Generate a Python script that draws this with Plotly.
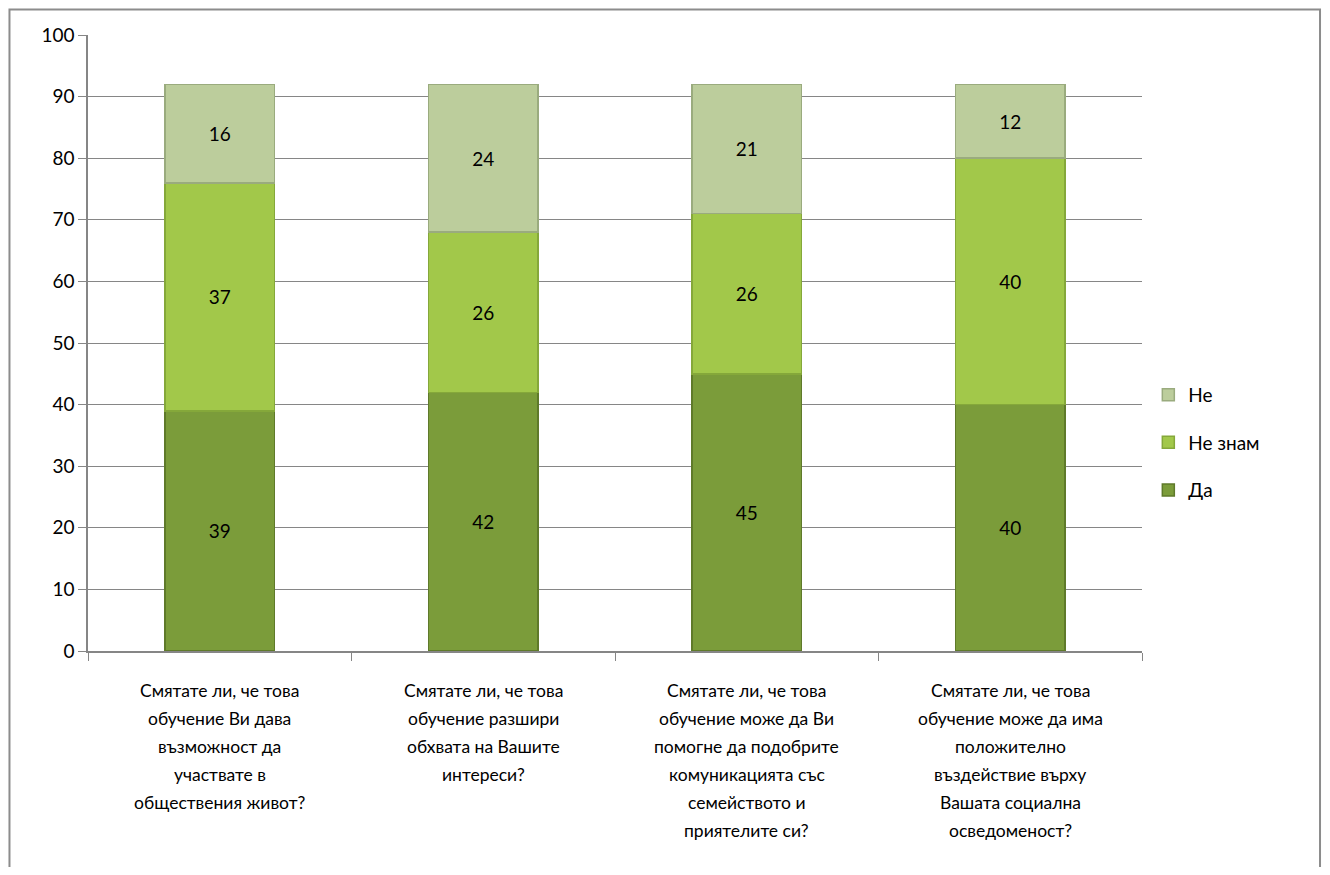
import plotly.graph_objects as go

categories = [
    "Смятате ли, че това<br>обучение Ви дава<br>възможност да<br>участвате в<br>обществения живот?",
    "Смятате ли, че това<br>обучение разшири<br>обхвата на Вашите<br>интереси?",
    "Смятате ли, че това<br>обучение може да Ви<br>помогне да подобрите<br>комуникацията със<br>семейството и<br>приятелите си?",
    "Смятате ли, че това<br>обучение може да има<br>положително<br>въздействие върху<br>Вашата социална<br>осведоменост?",
]
series_names = ["Да", "Не знам", "Не"]
da = [39, 42, 45, 40]
ne_znam = [37, 26, 26, 40]
ne = [16, 24, 21, 12]
y_ticks = [0, 10, 20, 30, 40, 50, 60, 70, 80, 90, 100]

colors = ["#7b9c3a", "#a2c84a", "#bccd9c"]
lines = ["#5f7a2a", "#85a83a", "#9aab7e"]
FONT = "Lato, sans-serif"
FS = 19
FS_CAT = 17.5

fig = go.Figure()
for k, (name, vals, c, lc) in enumerate(zip(series_names, [da, ne_znam, ne], colors, lines)):
    fig.add_trace(go.Bar(
        x=categories, y=vals, name=name, legendgroup=name,
        legendrank=1000 - k,
        marker=dict(color=c, line=dict(color=lc, width=1.5)),
        text=[str(v) for v in vals], textposition="inside",
        insidetextanchor="middle",
        textfont=dict(color="black", size=FS, family=FONT),
        width=0.415,
    ))

annotations = []
for cat in categories:
    for i, line in enumerate(cat.split("<br>")):
        annotations.append(dict(
            x=cat, xref="x", y=0, yref="y", yanchor="middle",
            yshift=-(39 + 28 * i), text=line, showarrow=False,
            font=dict(size=FS_CAT, family=FONT, color="black"),
        ))

fig.update_layout(
    width=1314, height=859,
    barmode="stack",
    paper_bgcolor="white", plot_bgcolor="white",
    margin=dict(l=80, r=180, t=27, b=216),
    font=dict(family=FONT, size=FS, color="black"),
    legend=dict(
        x=1.006, y=0.338, xanchor="left", yanchor="middle",
        traceorder="grouped", tracegroupgap=20,
        font=dict(size=FS, family=FONT),
        itemwidth=30,
    ),
    annotations=annotations,
    shapes=[dict(type="rect", xref="paper", yref="paper",
                 x0=-0.0745, x1=1.1689, y0=-0.5, y1=1.0415,
                 line=dict(color="#8c8c8c", width=2), layer="below")],
)
fig.update_xaxes(
    showticklabels=False, ticks="outside", tickson="boundaries",
    ticklen=8, tickcolor="#868686", showline=True, linecolor="#868686",
    linewidth=1.5, showgrid=False,
)
fig.update_yaxes(
    range=[0, 100], tickvals=y_ticks, ticks="outside", ticklen=8,
    tickcolor="#868686", showline=True, linecolor="#868686", linewidth=1.5,
    showgrid=True, gridcolor="#868686", gridwidth=1.2, zeroline=False,
    tickfont=dict(size=FS, family=FONT),
)
fig.write_html("out.html")
